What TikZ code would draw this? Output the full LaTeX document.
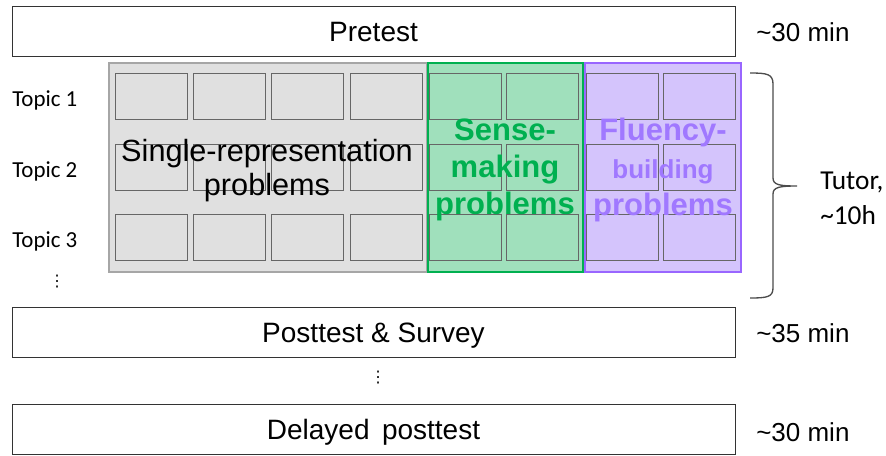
\documentclass[tikz,border=0pt]{standalone}
\usepackage{fontspec}
\setmainfont{Liberation Sans}
\newfontfamily\calibri{Carlito}
\newfontfamily\dejavu{DejaVu Sans}
\definecolor{smgreen}{RGB}{0,176,80}
\definecolor{smfill}{RGB}{160,224,188}
\definecolor{fbpurple}{RGB}{153,102,255}
\definecolor{fbtext}{RGB}{160,120,255}
\definecolor{fbfill}{RGB}{212,196,252}
\definecolor{srfill}{RGB}{224,224,224}
\definecolor{srline}{RGB}{166,166,166}
\tikzset{
  stagebox/.style={draw=black!80, line width=0.75pt, minimum width=542.25pt, minimum height=37.5pt, inner sep=0pt, text height=15pt, text depth=0pt, font=\fontsize{21}{25}\selectfont},
  timelabel/.style={anchor=west, inner sep=0pt, font=\fontsize{19.5}{23}\selectfont},
  topiclabel/.style={anchor=west, inner sep=0pt, font=\calibri\fontsize{17.2}{20}\selectfont},
  moredots/.style={inner sep=0pt, font=\dejavu\fontsize{12}{12}\selectfont},
  cell/.style={draw=black!60, line width=0.5pt},
  panel/.style={line width=1.5pt}
}
\begin{document}
\begin{tikzpicture}[x=0.75pt,y=-0.75pt]
    \useasboundingbox (0,0) rectangle (886,455);
    % stages
    \node[stagebox] (pretest) at (373.5,31) {Pretest};
    \node[timelabel] (pretime) at (756,32) {\textasciitilde30 min};
    \node[stagebox] (posttest) at (373.5,332) {Posttest \& Survey};
    \node[timelabel] (posttime) at (756,333) {\textasciitilde35 min};
    \node[moredots] (dots) at (378,378) {⋮};
    \node[stagebox] (delayed) at (373.5,429.5) {Delayed\, posttest};
    \node[timelabel] (delaytime) at (756,432) {\textasciitilde30 min};
    % topics
    \node[topiclabel] (topic1) at (12,100) {Topic 1};
    \node[topiclabel] (topic2) at (12,171) {Topic 2};
    \node[topiclabel] (topic3) at (12,241) {Topic 3};
    \node[moredots] (topicdots) at (57,282) {⋮};
    % problem panels
    \draw[panel, draw=srline, fill=srfill] (109,63) rectangle (427,272);
    \foreach \x in {115,193,271,350}
      \foreach \y in {73,144,214}
        \draw[cell] (\x,\y) rectangle ++(72,46);
    \draw[panel, draw=smgreen, fill=smfill] (428,63) rectangle (583,272);
    \foreach \x in {429,506}
      \foreach \y in {73,144,214}
        \draw[cell] (\x,\y) rectangle ++(72,46);
    \draw[panel, draw=fbpurple, fill=fbfill] (585,63) rectangle (741,272);
    \foreach \x in {586,663}
      \foreach \y in {73,144,214}
        \draw[cell] (\x,\y) rectangle ++(72,46);
    \node[align=center, font=\fontsize{23}{25.5}\selectfont] (single) at (267,171) {Single-representation\\problems};
    \node[align=center, text=smgreen, font=\bfseries\fontsize{23.25}{28}\selectfont] (sense) at (505,170) {Sense-\\making\\problems};
    \node[align=center, text=fbtext, font=\bfseries\fontsize{23.25}{28}\selectfont] (fluency) at (663,170) {Fluency-\\{\fontsize{19.5}{28}\selectfont building}\\problems};
    % tutor brace
    \coordinate (bracetop) at (750,73);
    \coordinate (bracetip) at (797,186);
    \coordinate (bracebot) at (750,298);
    \draw[line width=1pt, black!70] (bracetop) .. controls (767,73) and (773,74) .. (773,84) -- (773,178)
      .. controls (773,185) and (780,186) .. (bracetip)
      .. controls (780,186) and (773,187) .. (773,194) -- (773,288)
      .. controls (773,297) and (767,298) .. (bracebot);
    \node[anchor=west, align=left, inner sep=0pt, font=\calibri\fontsize{20.5}{26}\selectfont] (tutor) at (820,198) {Tutor,\\\textasciitilde10h};
\end{tikzpicture}
\end{document}
